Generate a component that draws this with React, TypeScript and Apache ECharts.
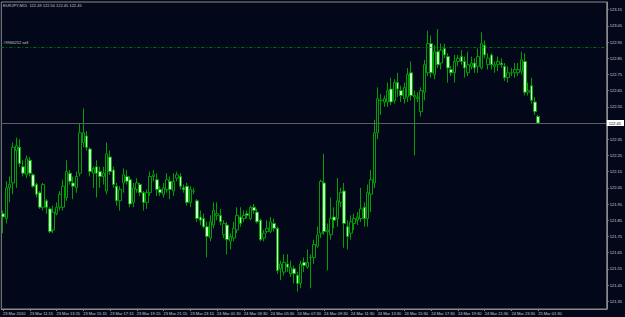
import React, { useEffect, useRef } from "react";
import * as echarts from "echarts";

const symbolTitle = "EURJPY,M15  122.49 122.50 122.45 122.45";
const orderLabel = "#9966252 sell";
const orderPrice = 122.92;
const lastPrice = 122.45;

const opens = [
  121.89, 121.86, 122.05, 122.08, 122.28, 122.30, 122.18, 122.13, 122.22, 122.13,
  122.07, 122.02, 121.93, 121.97, 121.92, 121.79, 121.89, 121.93, 121.93, 121.99,
  122.14, 122.08, 122.05, 122.14, 122.33, 122.37, 122.29, 122.14, 122.18, 122.15,
  122.12, 122.03, 122.24, 122.16, 122.06, 121.97, 122.08, 122.12, 122.10, 121.96,
  122.04, 122.07, 122.02, 121.96, 122.02, 122.12, 122.10, 122.04, 122.01, 122.04,
  122.09, 122.03, 122.11, 122.12, 122.05, 122.06, 121.96, 122.03, 121.97, 121.87,
  121.86, 121.81, 121.74, 121.82, 121.88, 121.88, 121.76, 121.82, 121.72, 121.74,
  121.79, 121.87, 121.86, 121.89, 121.86, 121.93, 121.90, 121.85, 121.74, 121.78,
  121.78, 121.83, 121.80, 121.55, 121.53, 121.58, 121.52, 121.55, 121.51, 121.46,
  121.59, 121.56, 121.62, 121.62, 121.69, 121.77, 122.08, 121.78, 121.76, 121.87,
  121.86, 121.96, 122.03, 121.81, 121.77, 121.83, 121.85, 121.86, 121.93, 121.86,
  122.01, 122.08, 122.39, 122.59, 122.58, 122.58, 122.66, 122.59, 122.70, 122.65,
  122.60, 122.61, 122.76, 122.61, 122.60, 122.52, 122.64, 122.76, 122.94, 122.75,
  122.89, 122.82, 122.91, 122.86, 122.78, 122.76, 122.83, 122.86, 122.83, 122.76,
  122.80, 122.82, 122.80, 122.79, 122.93, 122.81, 122.87, 122.80, 122.81, 122.82,
  122.80, 122.73, 122.76, 122.76, 122.76, 122.77, 122.83, 122.64, 122.68, 122.58,
  122.49,
];
const highs = [
  121.91, 122.09, 122.12, 122.33, 122.36, 122.35, 122.22, 122.25, 122.24, 122.14,
  122.08, 122.03, 122.08, 121.98, 121.93, 121.94, 121.96, 122.03, 122.10, 122.22,
  122.16, 122.12, 122.15, 122.45, 122.54, 122.40, 122.30, 122.18, 122.22, 122.18,
  122.18, 122.33, 122.28, 122.18, 122.08, 122.06, 122.17, 122.16, 122.12, 122.08,
  122.11, 122.08, 122.03, 122.04, 122.15, 122.16, 122.14, 122.06, 122.08, 122.14,
  122.12, 122.14, 122.15, 122.14, 122.07, 122.08, 122.06, 122.05, 121.98, 121.91,
  121.89, 121.84, 121.88, 121.96, 121.96, 121.92, 121.85, 121.84, 121.77, 121.84,
  121.93, 121.93, 121.91, 121.91, 121.94, 121.95, 121.92, 121.86, 121.79, 121.85,
  121.87, 121.86, 121.81, 121.60, 121.64, 121.64, 121.60, 121.57, 121.53, 121.60,
  121.62, 121.67, 121.64, 121.73, 121.81, 122.10, 122.26, 121.83, 121.99, 121.93,
  122.11, 122.05, 122.08, 121.85, 121.88, 121.89, 121.90, 122.05, 121.96, 122.07,
  122.16, 122.47, 122.67, 122.63, 122.62, 122.70, 122.73, 122.72, 122.76, 122.68,
  122.70, 122.79, 122.83, 122.65, 122.64, 122.67, 122.84, 123.02, 122.99, 122.93,
  123.03, 122.94, 122.94, 122.88, 122.80, 122.87, 122.87, 122.90, 122.86, 122.89,
  122.86, 122.85, 122.91, 123.01, 122.96, 122.88, 122.88, 122.83, 122.86, 122.85,
  122.82, 122.80, 122.79, 122.82, 122.82, 122.89, 122.88, 122.70, 122.73, 122.61,
  122.50,
];
const lows = [
  121.77, 121.83, 121.96, 122.01, 122.05, 122.18, 122.12, 122.11, 122.12, 122.05,
  121.99, 121.92, 121.91, 121.89, 121.77, 121.77, 121.88, 121.91, 121.91, 121.97,
  122.07, 121.98, 122.02, 122.12, 122.30, 122.28, 122.12, 122.05, 121.99, 122.05,
  122.07, 122.01, 122.13, 122.05, 121.94, 121.91, 122.02, 122.07, 121.93, 121.93,
  122.02, 122.00, 121.91, 121.92, 122.00, 122.09, 122.00, 122.00, 121.99, 122.02,
  121.98, 122.00, 122.09, 122.04, 122.02, 121.94, 121.93, 122.01, 121.84, 121.82,
  121.80, 121.62, 121.72, 121.80, 121.85, 121.82, 121.74, 121.64, 121.67, 121.72,
  121.77, 121.81, 121.84, 121.86, 121.85, 121.89, 121.83, 121.72, 121.72, 121.77,
  121.77, 121.78, 121.52, 121.48, 121.51, 121.53, 121.50, 121.46, 121.41, 121.43,
  121.53, 121.55, 121.43, 121.58, 121.68, 121.74, 121.76, 121.54, 121.73, 121.80,
  121.81, 121.93, 121.68, 121.67, 121.73, 121.79, 121.82, 121.84, 121.81, 121.81,
  121.90, 122.05, 122.35, 122.50, 122.55, 122.55, 122.56, 122.57, 122.61, 122.58,
  122.57, 122.58, 122.59, 122.25, 122.58, 122.49, 122.59, 122.74, 122.73, 122.72,
  122.79, 122.78, 122.85, 122.70, 122.74, 122.70, 122.80, 122.81, 122.73, 122.74,
  122.78, 122.76, 122.76, 122.78, 122.85, 122.78, 122.78, 122.76, 122.77, 122.79,
  122.71, 122.70, 122.74, 122.73, 122.74, 122.75, 122.62, 122.62, 122.57, 122.50,
  122.45,
];
const closes = [
  121.87, 122.05, 122.07, 122.30, 122.31, 122.20, 122.14, 122.23, 122.14, 122.06,
  122.01, 121.93, 122.07, 121.93, 121.78, 121.90, 121.93, 122.01, 122.06, 122.15,
  122.09, 122.06, 122.12, 122.39, 122.39, 122.30, 122.15, 122.17, 122.14, 122.12,
  122.14, 122.26, 122.15, 122.07, 121.97, 122.04, 122.13, 122.09, 121.95, 122.05,
  122.08, 122.02, 121.96, 122.02, 122.12, 122.13, 122.04, 122.02, 122.05, 122.10,
  122.04, 122.09, 122.13, 122.06, 122.04, 121.96, 122.04, 122.03, 121.86, 121.85,
  121.81, 121.75, 121.84, 121.91, 121.89, 121.84, 121.83, 121.73, 121.75, 121.80,
  121.88, 121.83, 121.88, 121.88, 121.93, 121.91, 121.84, 121.73, 121.77, 121.80,
  121.84, 121.80, 121.54, 121.58, 121.59, 121.56, 121.56, 121.52, 121.46, 121.58,
  121.57, 121.59, 121.62, 121.70, 121.76, 122.09, 121.78, 121.79, 121.86, 121.85,
  121.97, 122.02, 121.83, 121.75, 121.84, 121.86, 121.87, 121.92, 121.86, 122.02,
  122.10, 122.39, 122.60, 122.59, 122.60, 122.65, 122.58, 122.70, 122.66, 122.62,
  122.67, 122.75, 122.62, 122.62, 122.61, 122.65, 122.81, 122.94, 122.76, 122.89,
  122.81, 122.90, 122.87, 122.79, 122.76, 122.83, 122.85, 122.83, 122.79, 122.81,
  122.82, 122.79, 122.86, 122.94, 122.87, 122.85, 122.81, 122.81, 122.83, 122.81,
  122.73, 122.76, 122.76, 122.78, 122.78, 122.84, 122.64, 122.65, 122.59, 122.52,
  122.45,
];

const timeTickLabels = [
  "23 Mar 2010", "23 Mar 11:15", "23 Mar 13:15", "23 Mar 15:15", "23 Mar 17:15",
  "23 Mar 19:15", "23 Mar 21:15", "23 Mar 23:15", "24 Mar 01:30", "24 Mar 03:30",
  "24 Mar 05:30", "24 Mar 07:30", "24 Mar 09:30", "24 Mar 11:30", "24 Mar 13:30",
  "24 Mar 15:30", "24 Mar 17:30", "24 Mar 19:30", "24 Mar 21:30", "24 Mar 23:30",
  "25 Mar 01:30",
];

const priceTicks = [
  121.35, 121.45, 121.55, 121.65, 121.75, 121.85, 121.95, 122.05, 122.15, 122.25,
  122.35, 122.45, 122.55, 122.65, 122.75, 122.85, 122.95, 123.05, 123.15,
];

const TOTAL_SLOTS = 181;
const FONT = "Liberation Sans, Arial, sans-serif";

function buildCategories(): string[] {
  const out: string[] = [];
  for (let i = 0; i < TOTAL_SLOTS; i++) {
    if (i >= opens.length) {
      out.push("");
      continue;
    }
    const minutes = 9 * 60 + 15 + 15 * i + (i >= 57 ? 15 : 0);
    const day = 23 + Math.floor(minutes / 1440);
    const m = minutes % 1440;
    const hh = String(Math.floor(m / 60)).padStart(2, "0");
    const mm = String(m % 60).padStart(2, "0");
    out.push(`${day} Mar ${hh}:${mm}`);
  }
  return out;
}

export default function App() {
  const ref = useRef<HTMLDivElement | null>(null);

  useEffect(() => {
    if (!ref.current) return;
    const chart = echarts.init(ref.current, undefined, { renderer: "svg" });
    const categories = buildCategories();
    const data = opens.map((o, i) => [o, closes[i], lows[i], highs[i]]);

    chart.setOption({
      animation: false,
      backgroundColor: "#02081a",
      textStyle: { fontFamily: FONT },
      title: {
        text: symbolTitle,
        left: 3,
        top: 3,
        padding: 0,
        textStyle: { fontSize: 4, color: "#c8c8c8", fontWeight: "normal", fontFamily: FONT },
      },
      grid: {
        left: 1,
        right: 16,
        top: 2,
        bottom: 8,
        show: true,
        borderColor: "#8a8a8a",
        borderWidth: 1,
        backgroundColor: "transparent",
      },
      xAxis: {
        type: "category",
        data: categories,
        boundaryGap: true,
        axisLine: { show: true, lineStyle: { color: "#8a8a8a", width: 1 } },
        axisTick: {
          show: true,
          length: 2,
          alignWithLabel: true,
          interval: (idx: number) => idx % 8 === 0 && idx < opens.length,
          lineStyle: { color: "#8a8a8a" },
        },
        axisLabel: {
          show: true,
          interval: (idx: number) => idx % 8 === 0 && idx < opens.length,
          formatter: (_v: string, idx: number) => timeTickLabels[idx / 8] ?? "",
          fontSize: 4,
          color: "#d0d0d0",
          align: "left",
          margin: 2,
          fontFamily: FONT,
        },
        splitLine: { show: false },
      },
      yAxis: {
        type: "value",
        position: "right",
        min: 121.302,
        max: 123.197,
        scale: true,
        splitLine: { show: false },
        axisLine: { show: true, lineStyle: { color: "#8a8a8a", width: 1 } },
        axisTick: { show: true, length: 2, customValues: priceTicks, lineStyle: { color: "#8a8a8a" } },
        axisLabel: {
          show: true,
          customValues: priceTicks,
          formatter: (v: number) => v.toFixed(2),
          fontSize: 4,
          color: "#d0d0d0",
          margin: 3,
          fontFamily: FONT,
        },
      },
      series: [
        {
          type: "candlestick",
          data,
          barWidth: 3,
          itemStyle: {
            color: "#02081a",
            color0: "#c8ffc8",
            borderColor: "#00a000",
            borderColor0: "#00a000",
            borderColorDoji: "#00a000",
            borderWidth: 1,
          },
          markLine: {
            silent: true,
            symbol: "none",
            animation: false,
            data: [
              {
                yAxis: orderPrice,
                lineStyle: { color: "#007000", type: [3, 2, 1, 2], width: 1 },
                label: {
                  show: true,
                  position: "insideStartTop",
                  formatter: orderLabel,
                  color: "#c8c8c8",
                  fontSize: 4,
                  distance: [2, 2],
                  fontFamily: FONT,
                },
              },
              {
                yAxis: lastPrice,
                lineStyle: { color: "#5e5e5e", type: "solid", width: 1 },
                label: {
                  show: true,
                  position: "end",
                  formatter: lastPrice.toFixed(2),
                  color: "#000000",
                  backgroundColor: "#ffffff",
                  padding: [1, 3, 1, 2],
                  fontSize: 4,
                  distance: 0,
                  fontFamily: FONT,
                },
              },
            ],
          },
        },
      ],
    });

    return () => chart.dispose();
  }, []);

  return (
    <div
      ref={ref}
      style={{ position: "fixed", left: 0, top: 0, width: 625, height: 317 }}
    />
  );
}
